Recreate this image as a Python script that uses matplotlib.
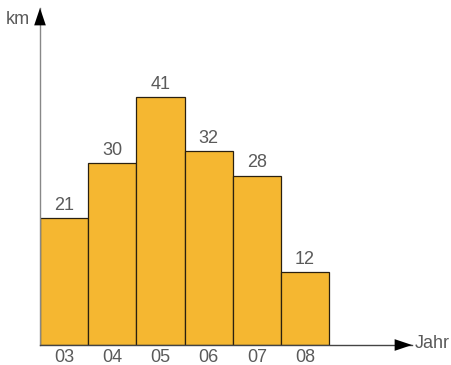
import matplotlib.pyplot as plt

plt.rcParams['font.family'] = ['Liberation Sans', 'DejaVu Sans']

years = ['03', '04', '05', '06', '07', '08']
km = [21, 30, 41, 32, 28, 12]

bar_color = '#F5B731'
text_color = '#5a5a5a'
fs = 13

fig = plt.figure(figsize=(4.51, 3.65), dpi=100)
ax = fig.add_axes([40 / 451, 20 / 365, 372 / 451, 337 / 365])

xs = list(range(len(years)))
ax.bar(xs, km, width=1.0, align='edge', color=bar_color,
       edgecolor='#2a2010', linewidth=0.9, zorder=2)

for x, v in zip(xs, km):
    ax.annotate(str(v), (x + 0.5, v), xytext=(0, 3), textcoords='offset points',
                ha='center', va='bottom', fontsize=fs, color=text_color)

ax.set_xlim(0, 7.72)
ax.set_ylim(0, 55.7)

for s in ['top', 'right']:
    ax.spines[s].set_visible(False)
ax.spines['left'].set_color('#888888')
ax.spines['bottom'].set_color('#444444')
ax.spines['left'].set_linewidth(1.0)
ax.spines['bottom'].set_linewidth(1.0)

# arrow heads at the axis ends
head = dict(arrowstyle='-|>,head_length=1.25,head_width=0.42', color='black',
            linewidth=0, mutation_scale=10, shrinkA=0, shrinkB=0)
ax.annotate('', xy=(1, 0), xytext=(0.95, 0), xycoords='axes fraction',
            arrowprops=head, annotation_clip=False)
ax.annotate('', xy=(0, 1), xytext=(0, 0.95), xycoords='axes fraction',
            arrowprops=head, annotation_clip=False)

ax.set_yticks([])
ax.set_xticks([x + 0.5 for x in xs])
ax.set_xticklabels(years, fontsize=fs, color=text_color)
ax.tick_params(axis='x', length=0, pad=3)

fig.text(6 / 451, 1 - 19 / 365, 'km', fontsize=fs, color=text_color,
         va='center', ha='left')
fig.text(415 / 451, 22 / 365, 'Jahr', fontsize=fs, color=text_color,
         va='center', ha='left')

fig.savefig('out.png', dpi=100)
